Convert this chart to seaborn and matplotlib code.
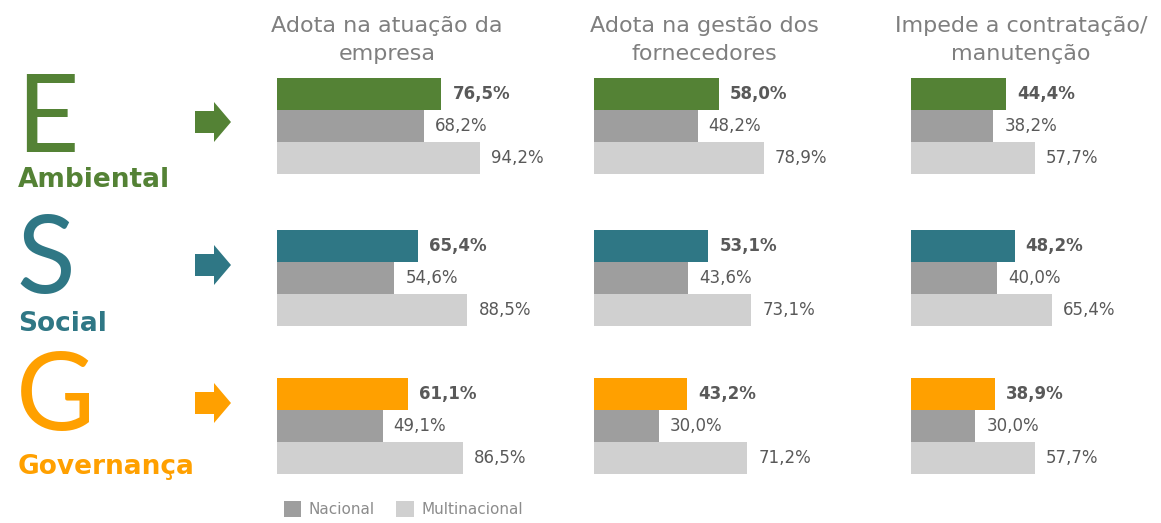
import numpy as np
import pandas as pd
import matplotlib
matplotlib.use("Agg")
import matplotlib.pyplot as plt
from matplotlib.patches import FancyArrow, Patch
import seaborn as sns

# data
colunas = ["Adota na atuação da\nempresa", "Adota na gestão dos\nfornecedores",
           "Impede a contratação/\nmanutenção"]
letras = ["E", "S", "G"]
pilares = ["Ambiental", "Social", "Governança"]
grupos = ["Total", "Nacional", "Multinacional"]

total = [[76.5, 58.0, 44.4],
         [65.4, 53.1, 48.2],
         [61.1, 43.2, 38.9]]
nacional = [[68.2, 48.2, 38.2],
            [54.6, 43.6, 40.0],
            [49.1, 30.0, 30.0]]
multinacional = [[94.2, 78.9, 57.7],
                 [88.5, 73.1, 65.4],
                 [86.5, 71.2, 57.7]]

cores = ["#548235", "#2f7785", "#ffa000"]
cinza = "#9e9e9e"
cinza_claro = "#d0d0d0"
texto = "#595959"

sns.set_theme(style="white")
plt.rcParams['font.family'] = ['DejaVu Sans']

W, H = 1161, 523
fig = plt.figure(figsize=(W / 100, H / 100), dpi=100)
fig.patch.set_facecolor("white")

# overlay in pixel coordinates for the decorations
ov = fig.add_axes([0, 0, 1, 1])
ov.set_xlim(0, W)
ov.set_ylim(H, 0)
ov.axis("off")

col_left = [277, 594, 911]
row_top = [78, 230, 378]
letra_base = [152, 293, 430]
nome_base = [187, 331, 474]
seta_y = [122, 265, 403]
px_per_pct = 2.15
panel_h = 96

for c, titulo in enumerate(colunas):
    ov.text(col_left[c] + 110, 40, titulo, ha="center", va="center",
            fontsize=16, color="#7f7f7f", linespacing=1.45)

for r in range(3):
    top = row_top[r]
    # big letter + name
    ov.text(16, letra_base[r], letras[r], ha="left", va="baseline", fontsize=78,
            color=cores[r], family="Lato")
    ov.text(18, nome_base[r], pilares[r], ha="left", va="baseline", fontsize=19,
            fontweight="bold", color=cores[r])
    ov.add_patch(FancyArrow(195, seta_y[r], 36, 0, width=22, head_width=40,
                            head_length=17, length_includes_head=True,
                            color=cores[r], lw=0))

    for c in range(3):
        df = pd.DataFrame({
            "grupo": grupos,
            "valor": [total[r][c], nacional[r][c], multinacional[r][c]],
        })
        left = col_left[c] / W
        bottom = (H - top - panel_h) / H
        ax = fig.add_axes([left, bottom, 100 * px_per_pct / W, panel_h / H])
        sns.barplot(data=df, x="valor", y="grupo", hue="grupo",
                    palette=[cores[r], cinza, cinza_claro], width=1.0,
                    legend=False, ax=ax, orient="h", saturation=1,
                    linewidth=0, edgecolor="none")
        ax.set_xlim(0, 100)
        ax.set_ylim(2.5, -0.5)
        ax.axis("off")
        ax.patch.set_alpha(0)
        for i, cont in enumerate(ax.containers):
            ax.bar_label(cont, labels=[f"{v:.1f}%".replace(".", ",") for v in cont.datavalues],
                         padding=8, fontsize=12, color=texto,
                         fontweight="bold" if i == 0 else "normal",
                         clip_on=False)

handles = [Patch(facecolor=cinza, edgecolor="none", label="Nacional"),
           Patch(facecolor=cinza_claro, edgecolor="none", label="Multinacional")]
fig.legend(handles=handles, loc="lower left", bbox_to_anchor=(270 / W, -8 / H),
           ncol=2, frameon=False, fontsize=11, labelcolor="#8c8c8c",
           handlelength=1.15, handleheight=1.2, handletextpad=0.5,
           columnspacing=1.4)

fig.savefig("out.png", dpi=100, facecolor="white")
